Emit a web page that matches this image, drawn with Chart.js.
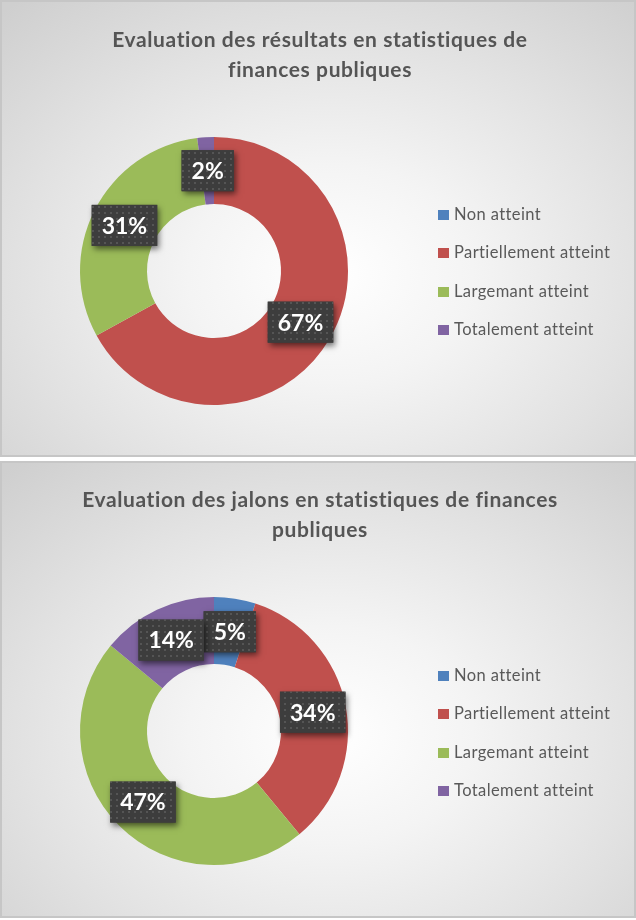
<!DOCTYPE html>
<html>
<head>
<meta charset="utf-8">
<script src="https://cdn.jsdelivr.net/npm/chart.js@4.4.1/dist/chart.umd.min.js"></script>
<style>
  html, body { margin: 0; padding: 0; background: #ffffff; width: 636px; height: 920px; overflow: hidden; }
  .panel { position: absolute; left: 0; width: 636px; height: 457px; box-sizing: border-box;
           border: 2px solid #c6c6c6;
           background: radial-gradient(ellipse 75% 80% at 52% 60%, #ffffff 0%, #f4f4f4 30%, #e2e2e2 65%, #cfcfcf 100%); }
  #p1 { top: 0; }
  #p2 { top: 461px; }
  .panel canvas { position: absolute; left: -2px; top: -2px; }
  .title { position: absolute; left: 0; width: 636px; text-align: center; font-family: Lato, "Open Sans", sans-serif;
           font-weight: bold; font-size: 21px; letter-spacing: 0.6px; line-height: 30px; color: #555555; }
  .legend { position: absolute; left: 426px; width: 196px; font-family: Lato, "Open Sans", sans-serif; font-size: 16.5px; letter-spacing: 0.4px; color: #595959; }
  .legend .item { position: absolute; left: 0; height: 20px; line-height: 20px; white-space: nowrap; }
  .legend .sw { display: inline-block; width: 11px; height: 10px; margin-left: 10px; margin-right: 5px; vertical-align: 0px; }
</style>
</head>
<body>
<div class="panel" id="p1">
  <canvas id="c1" width="636" height="457"></canvas>
  <div class="title" id="t1" style="top:22px"></div>
  <div class="legend" id="l1" style="top:193px;height:154px"></div>
</div>
<div class="panel" id="p2">
  <canvas id="c2" width="636" height="457"></canvas>
  <div class="title" id="t2" style="top:21px"></div>
  <div class="legend" id="l2" style="top:193px;height:154px"></div>
</div>
<script>
// ---- data ----
const categories = ["Non atteint", "Partiellement atteint", "Largemant atteint", "Totalement atteint"];
const resultatsValues = [0, 67, 31, 2];
const jalonsValues = [5, 34, 47, 14];
const title1Lines = ["Evaluation des résultats en statistiques de", "finances publiques"];
const title2Lines = ["Evaluation des jalons en statistiques de finances", "publiques"];
const sliceColors = ["#4F81BD", "#C0504D", "#9BBB59", "#8064A2"];

// ---- titles & legends (HTML text) ----
function fillTitle(id, lines) {
  const el = document.getElementById(id);
  lines.forEach((l, i) => { if (i) el.appendChild(document.createElement('br')); el.appendChild(document.createTextNode(l)); });
}
fillTitle('t1', title1Lines);
fillTitle('t2', title2Lines);
function fillLegend(id) {
  const el = document.getElementById(id);
  categories.forEach((c, i) => {
    const it = document.createElement('div');
    it.className = 'item';
    it.style.top = (9 + i * 38.3) + 'px';
    const sw = document.createElement('span');
    sw.className = 'sw';
    sw.style.background = sliceColors[i];
    it.appendChild(sw);
    it.appendChild(document.createTextNode(c));
    el.appendChild(it);
  });
}
fillLegend('l1');
fillLegend('l2');

// ---- dotted label pattern ----
function makePattern(ctx) {
  const pc = document.createElement('canvas');
  pc.width = 6; pc.height = 6;
  const p = pc.getContext('2d');
  p.fillStyle = '#3d3d3d'; p.fillRect(0, 0, 6, 6);
  p.fillStyle = '#555555'; p.fillRect(2, 2, 2, 2);
  return ctx.createPattern(pc, 'repeat');
}

const boxLabels = {
  id: 'boxLabels',
  afterDatasetsDraw(chart) {
    const ctx = chart.ctx;
    const meta = chart.getDatasetMeta(0);
    const data = chart.data.datasets[0].data;
    const total = data.reduce((a, b) => a + b, 0);
    const pat = makePattern(ctx);
    ctx.save();
    ctx.font = 'bold 23px Lato, "Open Sans", sans-serif';
    meta.data.forEach((arc, i) => {
      const v = data[i];
      if (!v) return;
      const txt = Math.round(v / total * 100) + '%';
      const c = arc.getCenterPoint();
      const tw = ctx.measureText(txt).width;
      const w = tw + 20, h = 41;
      const x = c.x - w / 2, y = c.y - h / 2;
      ctx.save();
      ctx.shadowColor = 'rgba(0,0,0,0.55)';
      ctx.shadowBlur = 6;
      ctx.shadowOffsetX = 2;
      ctx.shadowOffsetY = 3;
      ctx.fillStyle = '#3d3d3d';
      ctx.fillRect(x, y, w, h);
      ctx.restore();
      ctx.fillStyle = pat;
      ctx.fillRect(x, y, w, h);
      ctx.fillStyle = '#ffffff';
      ctx.textAlign = 'center';
      ctx.textBaseline = 'middle';
      ctx.fillText(txt, c.x, c.y + 1);
    });
    ctx.restore();
  }
};

function makeChart(id, values, pad) {
  return new Chart(document.getElementById(id), {
    type: 'doughnut',
    data: {
      labels: categories,
      datasets: [{ data: values, backgroundColor: sliceColors, borderWidth: 0, hoverOffset: 0 }]
    },
    options: {
      responsive: false,
      animation: false,
      devicePixelRatio: 1,
      cutout: '50%',
      layout: { padding: pad },
      plugins: { legend: { display: false }, title: { display: false }, tooltip: { enabled: false } }
    },
    plugins: [boxLabels]
  });
}

makeChart('c1', resultatsValues, { left: 80, right: 288, top: 137, bottom: 52 });
makeChart('c2', jalonsValues, { left: 80, right: 288, top: 136, bottom: 53 });
</script>
</body>
</html>
